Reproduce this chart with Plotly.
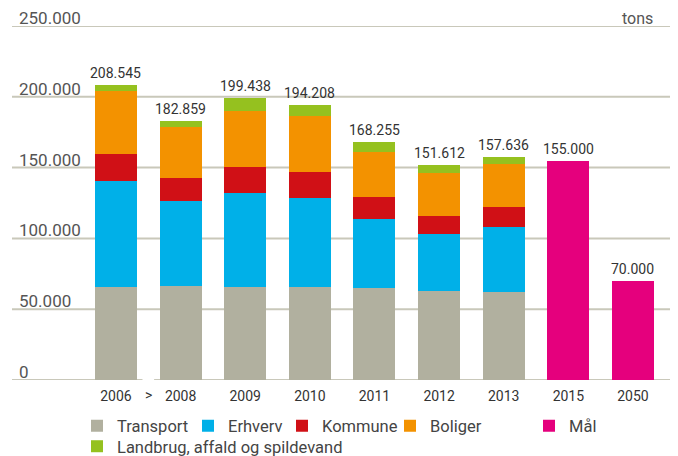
import plotly.graph_objects as go

years = ["2006", "2008", "2009", "2010", "2011", "2012", "2013", "2015", "2050"]
transport = [65700, 66400, 65700, 65700, 64800, 62700, 62000, None, None]
erhverv = [74700, 59900, 66300, 62700, 48800, 40300, 45900, None, None]
kommune = [19100, 16300, 18300, 18400, 15500, 12700, 14200, None, None]
boliger = [44800, 36000, 39600, 39800, 32000, 30400, 30600, None, None]
landbrug = [4245, 4259, 9538, 7608, 7155, 5512, 4936, None, None]
maal = [None, None, None, None, None, None, None, 155000, 70000]
totals = [208545, 182859, 199438, 194208, 168255, 151612, 157636, 155000, 70000]
total_labels = ["208.545", "182.859", "199.438", "194.208", "168.255", "151.612", "157.636", "155.000", "70.000"]
y_ticks = [0, 50000, 100000, 150000, 200000, 250000]
y_tick_labels = ["0", "50.000", "100.000", "150.000", "200.000", "250.000"]

# the page body has an 8px margin, so the figure is drawn 8px in from the window edge
W, H = 670, 448
ML, MR, MT, MB = 4, 3, 18, 76
PW = W - ML - MR
PH = H - MT - MB
XR = [-1.609, 8.650]

series = [
    ("Transport", transport, "#B1B09F", "legend"),
    ("Erhverv", erhverv, "#00B0E8", "legend2"),
    ("Kommune", kommune, "#D01016", "legend3"),
    ("Boliger", boliger, "#F39200", "legend4"),
    ("Landbrug, affald og spildevand", landbrug, "#95C11F", "legend6"),
    ("Mål", maal, "#E5007D", "legend5"),
]

fig = go.Figure()
for name, vals, col, lg in series:
    fig.add_trace(go.Bar(x=list(range(len(years))), y=vals, name=name,
                         marker=dict(color=col, line=dict(width=0)),
                         legend=lg, showlegend=True, hoverinfo="skip"))

grid_col = "#C9C8BA"
shapes = []
for t in y_ticks:
    if t == 0:
        shapes.append(dict(type="line", xref="x", yref="y", x0=XR[0], x1=0.41, y0=0, y1=0,
                           line=dict(color=grid_col, width=2), layer="below"))
        shapes.append(dict(type="line", xref="x", yref="y", x0=0.59, x1=XR[1], y0=0, y1=0,
                           line=dict(color=grid_col, width=2), layer="below"))
    else:
        shapes.append(dict(type="line", xref="paper", yref="y", x0=0, x1=1, y0=t, y1=t,
                           line=dict(color=grid_col, width=2), layer="below"))

def lx(px):
    return (px - ML) / PW

def ly(px):
    return (H - MB - px) / PH

annotations = []
for i, (tot, lab) in enumerate(zip(totals, total_labels)):
    annotations.append(dict(x=i, xref="x", y=tot, yref="y", text=lab, showarrow=False,
                            xanchor="center", yanchor="bottom", yshift=2,
                            font=dict(family="Roboto", size=14, color="#333333")))
for t, lab in zip(y_ticks, y_tick_labels):
    annotations.append(dict(x=lx(9), xref="paper", y=t, yref="y", text=lab,
                            showarrow=False, xanchor="left", yanchor="bottom", yshift=-4,
                            font=dict(family="Roboto", size=17, color="#555555")))
annotations.append(dict(x=lx(647), xref="paper", y=250000, yref="y", text="tons",
                        showarrow=False, xanchor="right", yanchor="bottom", yshift=-4,
                        font=dict(family="Roboto", size=16, color="#555555")))
annotations.append(dict(x=0.5, xref="x", y=0, yref="y", text="&gt;", showarrow=False,
                        xanchor="center", yanchor="top", yshift=-5,
                        font=dict(family="Roboto", size=14, color="#333333")))

legend_font = dict(family="Roboto", size=16.5, color="#444444")
common = dict(orientation="v", yanchor="top", xanchor="left", font=legend_font,
              bgcolor="rgba(0,0,0,0)", traceorder="normal", itemclick=False,
              itemdoubleclick=False, tracegroupgap=0, visible=True)
row1 = ly(400.5)
row2 = ly(421)

fig.update_layout(
    width=W, height=H, showlegend=True,
    margin=dict(l=ML, r=MR, t=MT, b=MB, autoexpand=False),
    paper_bgcolor="white", plot_bgcolor="white",
    barmode="stack", bargap=0.35,
    xaxis=dict(range=XR, tickmode="array", tickvals=list(range(len(years))), ticktext=years,
               showgrid=False, zeroline=False, showline=False, ticks="outside", ticklen=3,
               tickcolor="rgba(0,0,0,0)", automargin=False,
               tickfont=dict(family="Roboto", size=14, color="#333333")),
    yaxis=dict(range=[0, 250000], showgrid=False, zeroline=False, showticklabels=False,
               showline=False, automargin=False),
    shapes=shapes, annotations=annotations,
    legend=dict(x=lx(69), y=row1, **common),
    legend2=dict(x=lx(180), y=row1, **common),
    legend3=dict(x=lx(274), y=row1, **common),
    legend4=dict(x=lx(382), y=row1, **common),
    legend5=dict(x=lx(521), y=row1, **common),
    legend6=dict(x=lx(69), y=row2, **common),
)

fig.write_html("out.html")
